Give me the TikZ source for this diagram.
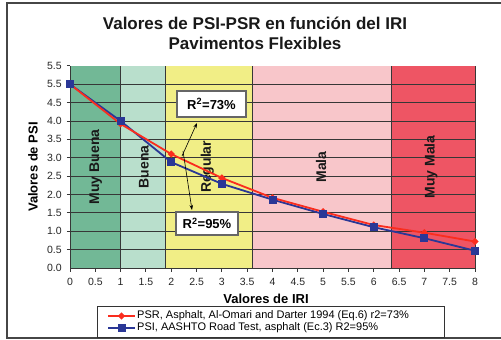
\documentclass[tikz,border=0pt]{standalone}
\usepackage{fontspec}
\setmainfont{Liberation Sans}
\usetikzlibrary{arrows.meta,shapes.geometric}
\definecolor{cMB}{RGB}{114,184,150}
\definecolor{cB}{RGB}{185,223,204}
\definecolor{cR}{RGB}{241,238,134}
\definecolor{cM}{RGB}{248,198,202}
\definecolor{cMM}{RGB}{238,85,100}
\definecolor{cred}{RGB}{250,45,30}
\definecolor{cblue}{RGB}{42,55,150}
\definecolor{cgrid}{RGB}{55,55,55}
\definecolor{cframe}{RGB}{70,70,70}
\tikzset{
  gridline/.style={cgrid, line width=0.9pt},
  ticklab/.style={font=\fontsize{10.5}{12}\selectfont, text=black!85, inner sep=0pt},
  bandlab/.style={font=\bfseries\fontsize{14}{16}\selectfont, rotate=90, inner sep=0pt, text=black!90},
  axtitle/.style={font=\bfseries\fontsize{13}{15}\selectfont, inner sep=0pt},
  titlestyle/.style={font=\bfseries\fontsize{17}{20}\selectfont, inner sep=0pt, text=black!90},
  rbox/.style={draw=black!60, line width=1.2pt, fill=white, font=\bfseries\fontsize{13}{15}\selectfont, inner sep=0pt},
  redline/.style={cred, line width=1.8pt},
  blueline/.style={cblue, line width=1.8pt},
  redmark/.style={diamond, fill=cred, inner sep=0pt, minimum size=7.5pt},
  bluemark/.style={rectangle, fill=cblue, inner sep=0pt, minimum size=8pt},
  legtext/.style={font=\fontsize{11}{13}\selectfont, inner sep=0pt, anchor=west},
  callout/.style={black, line width=0.6pt, -{Stealth[length=5pt,width=3.5pt]}}
}
\begin{document}
\begin{tikzpicture}[x=1pt,y=1pt]
\useasboundingbox (0,0) rectangle (501,340);
\fill[white] (0,0) rectangle (501,340);
% outer frame
\draw[cframe, line width=1.3pt] (503,337) -- (7,337) -- (7,2) -- (503,2);
% title
\node[titlestyle] (t1) at (255,317) {Valores de PSI-PSR en función del IRI};
\node[titlestyle] (t2) at (255,297) {Pavimentos Flexibles};
\begin{scope}[shift={(70,72)}, x=50.625pt, y=36.75pt]
  % bands
  \fill[cMB] (0,0) rectangle (1,5.5);
  \fill[cB] (1,0) rectangle (1.89,5.5);
  \fill[cR] (1.89,0) rectangle (3.61,5.5);
  \fill[cM] (3.61,0) rectangle (6.34,5.5);
  \fill[cMM] (6.34,0) rectangle (8,5.5);
  % grid
  \foreach \yy in {0.5,1,...,5.01} \draw[gridline] (-0.06,\yy) -- (8,\yy);
  \draw[gridline] (-0.06,5.5) -- (0,5.5);
  \foreach \xx in {1,1.89,3.61,6.34,8} \draw[gridline] (\xx,0) -- (\xx,5.5);
  \draw[gridline] (0,5.5) -- (0,0) -- (8,0);
  \foreach \xx in {0,0.5,...,8.01} \draw[gridline] (\xx,0) -- (\xx,-0.1);
  % x tick labels
  \foreach \xx/\lab [count=\i] in {0/0,0.5/0.5,1/1,1.5/1.5,2/2,2.5/2.5,3/3,3.5/3.5,4/4,4.5/4.5,5/5,5.5/5.5,6/6,6.5/6.5,7/7,7.5/7.5,8/8}
    \node[ticklab] (xl\i) at (\xx,-0.38) {\lab};
  % y tick labels
  \foreach \yy/\lab [count=\i] in {0/0.0,0.5/0.5,1/1.0,1.5/1.5,2/2.0,2.5/2.5,3/3.0,3.5/3.5,4/4.0,4.5/4.5,5/5.5,5.5/5.5}
    \node[ticklab, anchor=east] (yl\i) at (-0.16,\yy) {\lab};
  % band labels
  \node[bandlab] (lmb) at (0.51,2.75) {Muy Buena};
  \node[bandlab] (lb) at (1.46,2.75) {Buena};
  \node[bandlab] (lr) at (2.71,2.75) {Regular};
  \node[bandlab] (lm) at (4.96,2.75) {Mala};
  \node[bandlab] (lmm) at (7.13,2.75) {Muy Mala};
  % data lines
  \draw[blueline] (0,5.0) -- (1,4.0) -- (2,2.88) -- (3,2.29) -- (4,1.86) -- (5,1.47) -- (6,1.11) -- (7,0.81) -- (8,0.47);
  \draw[redline] (0,5.0) -- (1,3.92) -- (2,3.10) -- (3,2.45) -- (4,1.91) -- (5,1.53) -- (6,1.17) -- (7,0.96) -- (8,0.72);
  \foreach \xx/\yy [count=\i] in {0/5.0,1/3.92,2/3.10,3/2.45,4/1.91,5/1.53,6/1.17,7/0.96,8/0.72}
    \node[redmark] (r\i) at (\xx,\yy) {};
  \foreach \xx/\yy [count=\i] in {0/5.0,1/4.0,2/2.88,3/2.29,4/1.86,5/1.47,6/1.11,7/0.81,8/0.47}
    \node[bluemark] (b\i) at (\xx,\yy) {};
\end{scope}
% axis titles
\node[axtitle] (xt) at (266,41) {Valores de IRI};
\node[axtitle, rotate=90] (yt) at (33,173) {Valores de PSI};
% R2 boxes and callouts
\node[rbox, minimum width=69pt, minimum height=26pt] (box1) at (211.5,236) {R\textsuperscript{2}=73\%};
\node[rbox, minimum width=62pt, minimum height=23pt] (box2) at (207,116.5) {R\textsuperscript{2}=95\%};
\coordinate (a1s) at (182,184);
\coordinate (a1e) at (197,217);
\coordinate (a2s) at (183,189);
\coordinate (a2e) at (192,130);
\draw[callout] (a1s) -- (a1e);
\draw[callout] (a2s) -- (a2e);
% legend
\draw[black!80, line width=1pt, fill=white] (97,2) rectangle (444,33);
\coordinate (lr1) at (108,24);
\coordinate (lr2) at (135,24);
\coordinate (lb1) at (108,12);
\coordinate (lb2) at (135,12);
\draw[redline] (lr1) -- (lr2);
\node[redmark] (lrm) at (121.5,24) {};
\draw[blueline] (lb1) -- (lb2);
\node[bluemark] (lbm) at (121.5,12) {};
\node[legtext] (leg1) at (137,24) {PSR, Asphalt, Al-Omari and Darter 1994 (Eq.6) r2=73\%};
\node[legtext] (leg2) at (137,12) {PSI, AASHTO Road Test, asphalt (Ec.3) R2=95\%};
\end{tikzpicture}
\end{document}
